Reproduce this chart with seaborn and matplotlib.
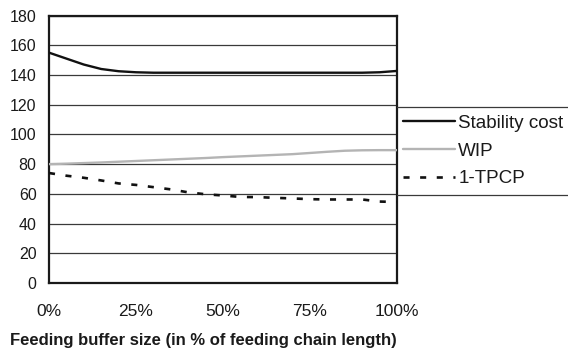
import matplotlib
matplotlib.use("Agg")
import matplotlib.pyplot as plt
from matplotlib.lines import Line2D
import seaborn as sns
import pandas as pd

buffer_pct = [0, 5, 10, 15, 20, 25, 30, 35, 40, 45, 50, 55, 60, 65, 70, 75, 80, 85, 90, 95, 100]
stability_cost = [155, 151, 147, 144, 142.5, 141.8, 141.5, 141.5, 141.5, 141.5, 141.5,
                  141.5, 141.5, 141.5, 141.5, 141.5, 141.5, 141.5, 141.5, 141.8, 142.7]
wip = [80, 80.3, 80.7, 81.1, 81.6, 82.1, 82.6, 83.1, 83.6, 84.1, 84.7,
       85.2, 85.7, 86.2, 86.7, 87.5, 88.3, 89.0, 89.3, 89.4, 89.4]
one_minus_tpcp = [74, 72.2, 70.8, 69.0, 67.0, 66.0, 64.5, 63.0, 61.0, 59.7, 58.9,
                  57.9, 57.8, 57.3, 56.9, 56.4, 56.2, 56.2, 56.2, 54.8, 54.5]
series_names = ["Stability cost", "WIP", "1-TPCP"]
x_ticks = [0, 25, 50, 75, 100]
x_tick_labels = ["0%", "25%", "50%", "75%", "100%"]
y_ticks = [0, 20, 40, 60, 80, 100, 120, 140, 160, 180]
x_label = "Feeding buffer size (in % of feeding chain length)"

df = pd.DataFrame({
    "x": buffer_pct * 3,
    "value": stability_cost + wip + one_minus_tpcp,
    "series": [series_names[0]] * len(buffer_pct) + [series_names[1]] * len(buffer_pct)
              + [series_names[2]] * len(buffer_pct),
})

sns.set_style("white")
plt.rcParams["font.family"] = ["Liberation Sans", "DejaVu Sans"]

fig = plt.figure(figsize=(5.68, 3.52), dpi=100)
ax = fig.add_axes([49 / 568, 1 - 283 / 352, (397 - 49) / 568, (283 - 15.5) / 352])

for y in y_ticks:
    ax.axhline(y, color="#3a3a3a", lw=0.9, zorder=1)

styles = {
    "Stability cost": dict(color="#111111", lw=1.7),
    "WIP": dict(color="#b4b4b4", lw=1.7),
    "1-TPCP": dict(color="#111111", lw=1.9, dashes=(2.3, 4.0)),
}
for name in series_names:
    sub = df[df["series"] == name]
    sns.lineplot(data=sub, x="x", y="value", ax=ax, label=name, zorder=3, **styles[name])

ax.set_xlim(0, 100)
ax.set_ylim(0, 180)
ax.set_xticks(x_ticks)
ax.set_xticklabels(x_tick_labels)
ax.set_yticks(y_ticks)
ax.set_xlabel("")
ax.set_ylabel("")
for s in ax.spines.values():
    s.set_color("#1a1a1a")
    s.set_linewidth(1.6)
ax.tick_params(axis="both", direction="out", length=6, width=1.0, color="#1a1a1a",
               colors="#1a1a1a", pad=3)
ax.tick_params(axis="y", labelsize=11.5)
ax.tick_params(axis="x", labelsize=12.5, pad=9)
ax.grid(False)

leg = ax.legend(loc="center left", bbox_to_anchor=(1.0, 1 - (151 - 15.5) / (283 - 15.5)),
                frameon=False, fontsize=13.6, handlelength=2.75, handletextpad=0.2,
                labelspacing=0.55, borderaxespad=0.3, borderpad=0.0)
for t in leg.get_texts():
    t.set_color("#1a1a1a")

for yy in (107.3, 195):
    fig.add_artist(Line2D([397 / 568, 1.0], [1 - yy / 352] * 2, transform=fig.transFigure,
                          color="#3a3a3a", lw=0.9))

fig.text(10 / 568, 1 - 340 / 352, x_label, fontsize=12, fontweight="bold",
         ha="left", va="center", color="#1a1a1a")

fig.savefig("out.png", dpi=100)
